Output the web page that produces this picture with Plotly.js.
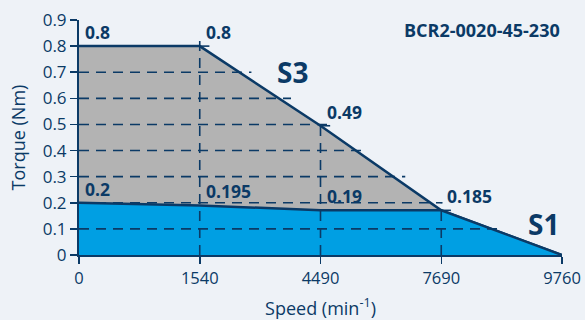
<!DOCTYPE html>
<html>
<head>
<meta charset="utf-8">
<script src="https://cdn.plot.ly/plotly-3.0.1.min.js"></script>
<style>html,body{margin:0;padding:0;background:#eef2f7;}#chart{width:585px;height:320px;}</style>
</head>
<body>
<div id="chart"></div>
<script>
// Speed tick labels (equally spaced on the chart)
var speedLabels = ['0', '1540', '4490', '7690', '9760'];
// S3 envelope (torque, Nm) at each speed point
var s3Torque = [0.8, 0.8, 0.495, 0.171, 0];
// S1 envelope (torque, Nm)
var s1Torque = [0.2, 0.19, 0.171, 0.171, 0];
// printed value labels
var s3Labels = ['0.8', '0.8', '0.49', '0.185'];
var s1Labels = ['0.2', '0.195', '0.19'];
var yTicks = [0, 0.1, 0.2, 0.3, 0.4, 0.5, 0.6, 0.7, 0.8, 0.9];
var modelName = 'BCR2-0020-45-230';

var navy = '#0b3a66';
var xIdx = speedLabels.map(function(_, i){ return i; });

var traces = [
  {x: xIdx, y: s3Torque, type: 'scatter', mode: 'lines', fill: 'tozeroy',
   fillcolor: '#b3b3b3', line: {color: navy, width: 2.5}, hoverinfo: 'skip'},
  {x: xIdx, y: s1Torque, type: 'scatter', mode: 'lines', fill: 'tozeroy',
   fillcolor: '#009fe3', line: {color: navy, width: 2.5}, hoverinfo: 'skip'}
];

// crossing of the outer envelope with horizontal level y
function crossX(y){
  for (var i = 0; i < s3Torque.length - 1; i++){
    var a = s3Torque[i], b = s3Torque[i+1];
    if (a >= y && b < y) return i + (a - y) / (a - b);
  }
  return xIdx[xIdx.length-1];
}

var dash = '10px,7px';
var shapes = [];
[0.1,0.2,0.3,0.4,0.5,0.6,0.7].forEach(function(y){
  shapes.push({type:'line', xref:'x', yref:'y', x0:0, x1:crossX(y)+0.1, y0:y, y1:y,
    line:{color:navy, width:1.6, dash:dash}, layer:'above'});
});
[1,2,3].forEach(function(i){
  shapes.push({type:'line', xref:'x', yref:'y', x0:i, x1:i, y0:0, y1:s3Torque[i]+0.025,
    line:{color:navy, width:1.6, dash:dash}, layer:'above'});
  shapes.push({type:'line', xref:'x', yref:'y', x0:i, x1:i+0.08, y0:s3Torque[i], y1:s3Torque[i],
    line:{color:navy, width:1.6}, layer:'above'});
});

var labFont = {family:'Open Sans, sans-serif', size:17.5, color:navy};
var annotations = [];
s3Labels.forEach(function(t, i){
  annotations.push({x:i, y:s3Torque[i], xref:'x', yref:'y', text:'<b>'+t+'</b>', showarrow:false,
    xanchor:'left', yanchor:'bottom', xshift:4, yshift:0, font:labFont});
});
s1Labels.forEach(function(t, i){
  annotations.push({x:i, y:s1Torque[i], xref:'x', yref:'y', text:'<b>'+t+'</b>', showarrow:false,
    xanchor:'left', yanchor:'bottom', xshift:4, yshift:0, font:labFont});
});
annotations.push({x:1.62, y:0.7, xref:'x', yref:'y', text:'<b>S3</b>', showarrow:false,
  xanchor:'left', yanchor:'middle', font:{family:'Open Sans, sans-serif', size:28, color:navy}});
annotations.push({x:3.7, y:0.12, xref:'x', yref:'y', text:'<b>S1</b>', showarrow:false,
  xanchor:'left', yanchor:'middle', font:{family:'Open Sans, sans-serif', size:28, color:navy}});
annotations.push({x:1, y:1, xref:'paper', yref:'paper', text:'<b>'+modelName+'</b>', showarrow:false,
  xanchor:'right', yanchor:'middle', yshift:-10, font:{family:'Open Sans, sans-serif', size:18, color:navy}});

var layout = {
  width:585, height:320,
  margin:{l:79, r:23, t:20, b:65},
  paper_bgcolor:'#eef2f7', plot_bgcolor:'#eef2f7',
  showlegend:false,
  font:{family:'Open Sans, sans-serif', color:navy},
  xaxis:{range:[0,4], tickvals:xIdx, ticktext:speedLabels, showgrid:false, zeroline:false,
    showline:true, linecolor:navy, linewidth:2, ticks:'outside', ticklen:7, tickcolor:navy, tickwidth:1.5,
    tickfont:{size:16.5, color:navy},
    title:{text:'Speed (min<sup>-1</sup>)', font:{size:18, color:navy}, standoff:20}},
  yaxis:{range:[0,0.9], tickvals:yTicks, showgrid:false, zeroline:false,
    showline:true, linecolor:navy, linewidth:2, ticks:'outside', ticklen:7, tickcolor:navy, tickwidth:1.5,
    tickfont:{size:17, color:navy},
    title:{text:'Torque (Nm)', font:{size:18, color:navy}, standoff:12}},
  shapes:shapes, annotations:annotations
};
Plotly.newPlot('chart', traces, layout, {displayModeBar:false, staticPlot:true});
</script>
</body>
</html>
